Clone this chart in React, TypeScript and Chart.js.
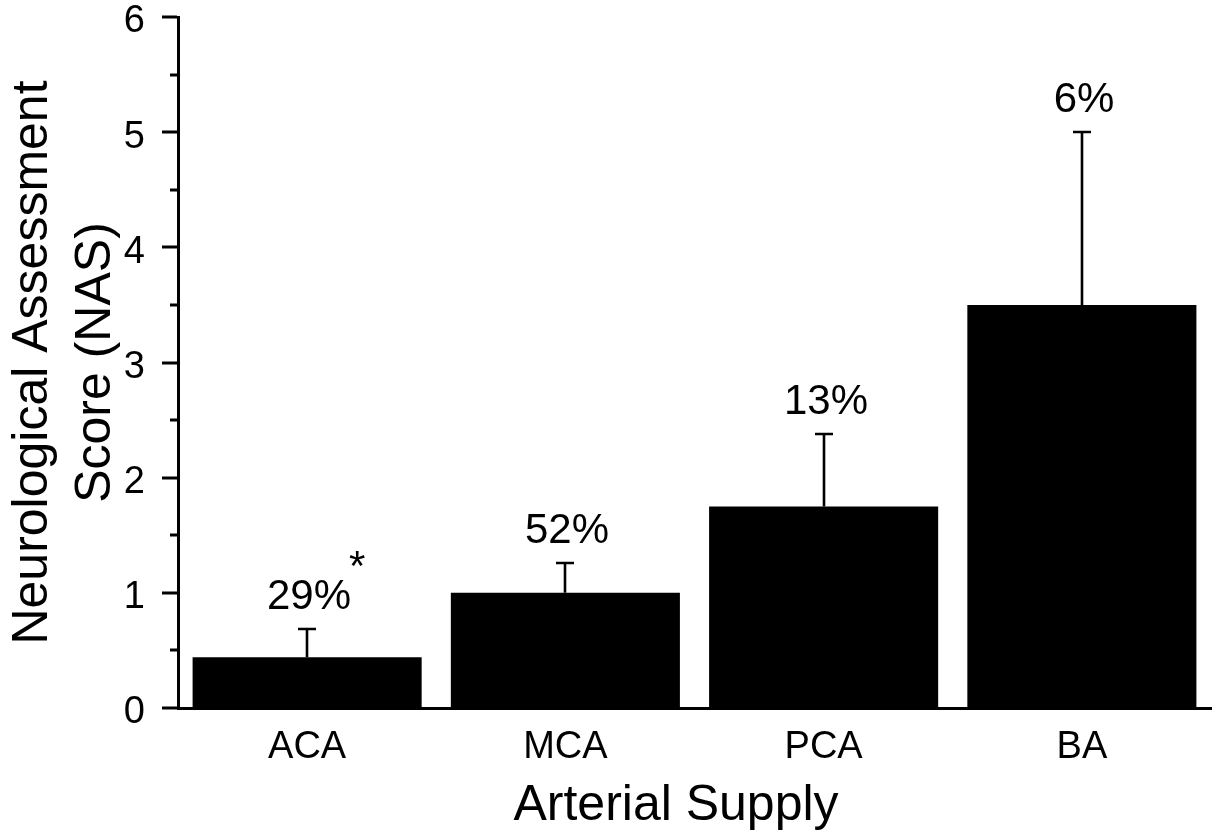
import React, { useEffect, useRef } from "react";
import { Chart, registerables } from "chart.js";

Chart.register(...registerables);

// ---- Data ----
const categories = ["ACA", "MCA", "PCA", "BA"];
const meanScores = [0.44, 1.0, 1.75, 3.5];
const errorSE = [0.25, 0.26, 0.63, 1.5];
const percentLabels = ["29%", "52%", "13%", "6%"];
const sigMarks = ["*", "", "", ""];
const yMin = 0;
const yMax = 6;
const yMajorStep = 1;
const yMinorStep = 0.5;
const xTitle = "Arterial Supply";
const yTitle = ["Neurological Assessment", "Score (NAS)"];

const FONT = "'Liberation Sans', Arial, Helvetica, sans-serif";

const annotationPlugin = {
  id: "annotations",
  afterDatasetsDraw(chart: any) {
    const ctx = chart.ctx as CanvasRenderingContext2D;
    const y = chart.scales.y;
    const meta = chart.getDatasetMeta(0);
    ctx.save();
    ctx.strokeStyle = "#000";
    ctx.fillStyle = "#000";
    ctx.lineCap = "butt";
    meta.data.forEach((bar: any, i: number) => {
      const cx = Math.round(bar.x);
      const base = y.getPixelForValue(meanScores[i]);
      const top = Math.round(y.getPixelForValue(meanScores[i] + errorSE[i]));
      ctx.lineWidth = 2.6;
      ctx.beginPath();
      ctx.moveTo(cx, base);
      ctx.lineTo(cx, top);
      ctx.moveTo(cx - 9, top);
      ctx.lineTo(cx + 9, top);
      ctx.stroke();

      ctx.font = `42px ${FONT}`;
      ctx.textAlign = "center";
      ctx.textBaseline = "alphabetic";
      const lx = cx + 2;
      const ly = top - 20;
      ctx.fillText(percentLabels[i], lx, ly);
      if (sigMarks[i]) {
        const w = ctx.measureText(percentLabels[i]).width;
        ctx.textAlign = "left";
        ctx.fillText(sigMarks[i], lx + w / 2 - 2, ly - 29);
      }
    });

    // y-axis major & minor tick marks
    const axisX = chart.chartArea.left - 1;
    ctx.lineWidth = 3;
    ctx.beginPath();
    const n = Math.round((yMax - yMin) / yMinorStep);
    for (let k = 0; k <= n; k++) {
      const v = yMin + k * yMinorStep;
      const py = Math.round(y.getPixelForValue(v));
      const isMajor = Math.abs(v / yMajorStep - Math.round(v / yMajorStep)) < 1e-9;
      const len = isMajor ? 15 : 7;
      ctx.moveTo(axisX - len, py);
      ctx.lineTo(axisX, py);
    }
    ctx.stroke();

    // x-axis title
    ctx.font = `50px ${FONT}`;
    ctx.textAlign = "center";
    ctx.textBaseline = "alphabetic";
    ctx.fillText(xTitle, 676, 820);
    ctx.restore();
  },
};

export default function App() {
  const canvasRef = useRef<HTMLCanvasElement | null>(null);

  useEffect(() => {
    const canvas = canvasRef.current;
    if (!canvas) return;
    const chart = new Chart(canvas, {
      type: "bar",
      data: {
        labels: categories,
        datasets: [
          {
            data: meanScores,
            backgroundColor: "#000",
            borderWidth: 0,
            categoryPercentage: 1,
            barPercentage: 0.887,
          },
        ],
      },
      options: {
        responsive: false,
        animation: false,
        devicePixelRatio: 1,
        layout: { padding: { left: 0, top: 17, right: 8, bottom: 0 } },
        plugins: {
          legend: { display: false },
          tooltip: { enabled: false },
        },
        scales: {
          x: {
            grid: { display: false, drawTicks: false },
            border: { display: true, color: "#000", width: 3 },
            ticks: {
              color: "#000",
              font: { family: FONT, size: 38 },
              padding: 17,
              maxRotation: 0,
            },
            title: { display: false },
            afterFit: (s: any) => {
              s.height = 127;
              s.paddingLeft = 0;
              s.paddingRight = 0;
            },
          },
          y: {
            min: yMin,
            max: yMax,
            grid: { display: false, drawTicks: false },
            border: { display: true, color: "#000", width: 3 },
            ticks: {
              stepSize: yMajorStep,
              color: "#000",
              font: { family: FONT, size: 38 },
              padding: 33,
              labelOffset: 5,
            },
            title: {
              display: true,
              text: yTitle,
              color: "#000",
              font: { family: FONT, size: 50, lineHeight: 1.25 },
              padding: { top: 2, bottom: 0 },
            },
            afterFit: (s: any) => {
              s.width = 178;
              s.paddingTop = 0;
              s.paddingBottom = 0;
            },
          },
        },
      },
      plugins: [annotationPlugin],
    });
    return () => chart.destroy();
  }, []);

  return (
    <div style={{ position: "fixed", left: 0, top: 0, width: 1219, height: 835, background: "#fff" }}>
      <canvas ref={canvasRef} width={1219} height={835} style={{ display: "block" }} />
    </div>
  );
}
